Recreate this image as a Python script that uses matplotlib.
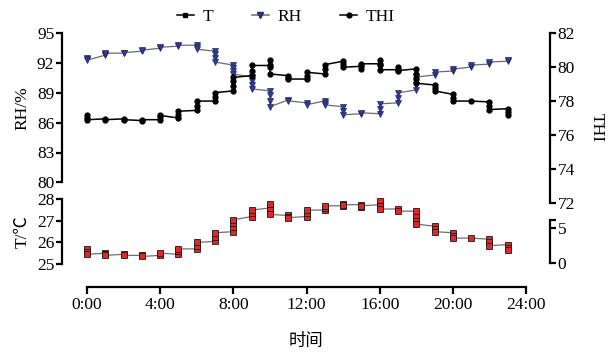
import matplotlib
matplotlib.use("Agg")
import matplotlib.pyplot as plt
from matplotlib.lines import Line2D

plt.rcParams["font.family"] = ["Liberation Serif", "Noto Sans CJK SC"]

# readings per hour, in the order the line runs through each stack
HOURS = list(range(24))
T_READ = [
    [25.7, 25.55, 25.45], [25.5, 25.45, 25.4], [25.45, 25.4], [25.4, 25.35],
    [25.4, 25.5], [25.45, 25.6, 25.7], [25.7, 25.85, 26.0], [26.05, 26.25, 26.45],
    [26.5, 26.7, 26.9, 27.05], [27.2, 27.35, 27.5], [27.6, 27.8, 27.5, 27.3],
    [27.25, 27.2, 27.15], [27.2, 27.35, 27.5], [27.5, 27.6, 27.7],
    [27.7, 27.8, 27.75], [27.75, 27.65, 27.7], [27.75, 27.9, 27.7, 27.55],
    [27.55, 27.45], [27.45, 27.2, 27.0, 26.85], [26.75, 26.6, 26.5],
    [26.45, 26.3, 26.2], [26.2], [26.15, 26.0, 25.85], [25.9, 25.75, 25.65],
]
RH_READ = [
    [92.5, 92.4, 92.3], [92.8, 92.9, 93.0], [93.0, 93.05], [93.2, 93.3],
    [93.5, 93.6], [93.7, 93.8], [93.8, 93.6, 93.4], [93.2, 92.9, 92.5, 92.1],
    [91.8, 91.5, 91.2, 90.9], [90.6, 90.2, 89.8, 89.4], [89.2, 88.8, 88.2, 87.6],
    [88.3, 88.2], [88.0, 87.8], [88.2, 88.0, 87.8], [87.6, 87.2, 86.8],
    [86.9, 87.0], [86.9, 87.4, 87.9], [88.0, 88.5, 89.0],
    [89.3, 89.8, 90.3, 90.6], [90.8, 91.1], [91.2, 91.4], [91.6, 91.8],
    [91.9, 92.1], [92.2, 92.3],
]
THI_READ = [
    [77.2, 77.0, 76.9], [76.95, 76.9], [76.95, 76.9], [76.85, 76.9],
    [76.9, 77.05, 77.15], [77.0, 77.2, 77.4], [77.45, 77.7, 78.0],
    [78.0, 78.25, 78.5], [78.6, 78.9, 79.2, 79.4], [79.5, 79.8, 80.1],
    [80.1, 80.4, 80.0, 79.6], [79.5, 79.35, 79.3], [79.3, 79.5, 79.7],
    [79.6, 79.9, 80.15], [80.35, 80.2, 80.0], [80.05, 79.9, 80.2],
    [80.2, 80.4, 80.1, 79.85], [79.85, 80.0, 79.8], [79.9, 79.6, 79.3, 79.05],
    [78.95, 78.8, 78.6], [78.4, 78.2, 78.0], [78.0], [77.95, 77.7, 77.5],
    [77.55, 77.35, 77.2],
]
X_TICKS = [0, 4, 8, 12, 16, 20, 24]
X_LABELS = ["0:00", "4:00", "8:00", "12:00", "16:00", "20:00", "24:00"]

W, H = 611, 355
X0, X1 = 87, 526          # pixel x of hour 0 / hour 24
LEFT_SP = -25 / (X1 - X0)
RIGHT_SP = (550 - X0) / (X1 - X0)
LW = 1.6
FS = 12.5


def box(y_top, y_bot):
    return [X0 / W, 1 - y_bot / H, (X1 - X0) / W, (y_bot - y_top) / H]


def flat(read):
    xs = [h for h, vals in zip(HOURS, read) for _ in vals]
    ys = [v for vals in read for v in vals]
    return xs, ys


def spine_only(ax, side, pos):
    for s in ax.spines.values():
        s.set_visible(False)
    sp = ax.spines[side]
    sp.set_visible(True)
    sp.set_linewidth(LW)
    sp.set_position(("axes", pos))
    ax.yaxis.set_ticks_position(side)
    ax.yaxis.set_label_position(side)
    ax.tick_params(axis="y", direction="out", length=4.5, width=LW,
                   labelsize=FS, pad=1)
    ax.set_xlim(0, 24)
    ax.set_xticks([])
    ax.patch.set_visible(False)


def main():
    fig = plt.figure(figsize=(W / 100, H / 100), dpi=100)

    ax_rh = fig.add_axes(box(33.3, 182.3))
    ax_thi = fig.add_axes(box(33.3, 202.7))
    ax_t = fig.add_axes(box(199.3, 264))
    ax_r2 = fig.add_axes(box(220, 263))
    ax_x = fig.add_axes(box(277, 287))

    spine_only(ax_rh, "left", LEFT_SP)
    ax_rh.set_ylim(80, 95)
    ax_rh.set_yticks([80, 83, 86, 89, 92, 95])

    spine_only(ax_thi, "right", RIGHT_SP)
    ax_thi.set_ylim(72, 82)
    ax_thi.set_yticks([72, 74, 76, 78, 80, 82])

    spine_only(ax_t, "left", LEFT_SP)
    ax_t.set_ylim(25, 28)
    ax_t.set_yticks([25, 26, 27, 28])

    spine_only(ax_r2, "right", RIGHT_SP)
    ax_r2.set_ylim(0, 6.1)
    ax_r2.set_yticks([0, 5, 6.1])
    ax_r2.set_yticklabels(["0", "5", ""])

    # x axis on its own
    for s in ax_x.spines.values():
        s.set_visible(False)
    ax_x.spines["bottom"].set_visible(True)
    ax_x.spines["bottom"].set_linewidth(LW)
    ax_x.set_xlim(0, 24)
    ax_x.set_yticks([])
    ax_x.set_xticks(X_TICKS)
    ax_x.set_xticklabels(X_LABELS)
    ax_x.tick_params(axis="x", direction="out", length=5, width=LW,
                     labelsize=FS, pad=2)
    ax_x.patch.set_visible(False)

    x, y = flat(THI_READ)
    ax_thi.plot(x, y, color="black", lw=1.1, marker="o", ms=3.5,
                mfc="black", mec="black", clip_on=False, zorder=3)
    x, y = flat(RH_READ)
    ax_rh.plot(x, y, color="#6b6b6b", lw=0.9, marker="v", ms=4.3,
               mfc="#2c3d9a", mec="#222a5c", mew=0.5, clip_on=False, zorder=4)
    x, y = flat(T_READ)
    ax_t.plot(x, y, color="#6f6f6f", lw=0.9, marker="s", ms=4,
              mfc="#e3262b", mec="#1a1a1a", mew=0.6, clip_on=False, zorder=4)

    fig.text(22 / W, 1 - 108 / H, "RH/%", rotation=90, ha="center",
             va="center", fontsize=FS)
    fig.text(22 / W, 1 - 232 / H, "T/℃", rotation=90, ha="center",
             va="center", fontsize=FS)
    fig.text(597 / W, 1 - 128 / H, "THI", rotation=270, ha="center",
             va="center", fontsize=FS)
    fig.text(306 / W, 1 - 341 / H, "时间", ha="center", va="center",
             fontsize=FS, family=["Noto Sans CJK SC"])

    handles = [
        Line2D([], [], color="black", lw=1.1, marker="s", ms=3.5, mfc="black"),
        Line2D([], [], color="#6b6b6b", lw=1.1, marker="v", ms=4,
               mfc="#2c3d9a", mec="#222a5c"),
        Line2D([], [], color="black", lw=1.1, marker="o", ms=3.5, mfc="black"),
    ]
    fig.legend(handles, ["T", "RH", "THI"], ncol=3, loc="center",
               bbox_to_anchor=(286 / W, 1 - 17 / H), frameon=False,
               fontsize=FS, handlelength=1.0, handletextpad=0.5,
               columnspacing=2.2, borderpad=0)

    fig.savefig("out.png", dpi=100)
    plt.close(fig)


if __name__ == "__main__":
    main()
